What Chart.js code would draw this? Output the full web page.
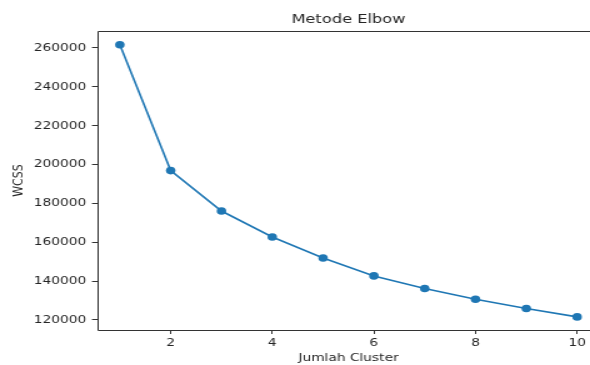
<!DOCTYPE html>
<html>
<head>
<meta charset="utf-8">
<script src="https://cdn.jsdelivr.net/npm/chart.js@4"></script>
<style>
  html, body { margin: 0; padding: 0; background: #fff; overflow: hidden; width: 590px; height: 365px; }
  #clip { width: 590px; height: 365px; overflow: hidden; position: relative; }
  #wrap { transform: scaleX(1.25); transform-origin: 0 0; width: 500px; height: 365px; }
</style>
</head>
<body>
<div id="clip"><div id="wrap"><canvas id="grafico" width="500" height="365"></canvas></div></div>
<script>
const clusters = [1, 2, 3, 4, 5, 6, 7, 8, 9, 10];
const wcss = [261700, 196900, 176100, 162700, 151900, 142700, 136200, 130700, 125900, 121600];
const xTicks = [2, 4, 6, 8, 10];
const yTicks = [120000, 140000, 160000, 180000, 200000, 220000, 240000, 260000];

const corTexto = '#262626';
const corEixo = '#333333';
const fonte = 'DejaVu Sans';

// spines do matplotlib: topo, esquerda e base (a direita fica fora do recorte)
const moldura = {
    id: 'moldura',
    afterDraw(chart) {
        const {ctx, chartArea: a} = chart;
        const l = Math.round(a.left) + 0.5, t = Math.round(a.top) + 0.5;
        const b = Math.round(a.bottom) + 0.5, r = a.right;
        ctx.save();
        ctx.strokeStyle = corEixo;
        ctx.lineWidth = 1;
        ctx.beginPath();
        ctx.moveTo(r, t);
        ctx.lineTo(l, t);
        ctx.lineTo(l, b);
        ctx.lineTo(r, b);
        ctx.stroke();
        ctx.restore();
    }
};

const data = {
    datasets: [{
        data: clusters.map((c, i) => ({x: c, y: wcss[i]})),
        borderColor: '#1f77b4',
        backgroundColor: '#1f77b4',
        borderWidth: 1.6,
        pointRadius: 3.8,
        pointBorderWidth: 0,
        tension: 0
    }]
};

const config = {
    type: 'line',
    data: data,
    plugins: [moldura],
    options: {
        responsive: false,
        animation: false,
        layout: { padding: { left: 0, right: 20, top: 0, bottom: 0 } },
        plugins: {
            legend: { display: false },
            tooltip: { enabled: false },
            title: {
                display: true,
                text: 'Metode Elbow',
                fullSize: false,
                color: corTexto,
                font: { family: fonte, size: 13, weight: 'normal' },
                padding: { top: 11.5, bottom: 3.9 }
            }
        },
        scales: {
            x: {
                type: 'linear',
                min: 0.55,
                max: 10.45,
                afterBuildTicks: s => { s.ticks = xTicks.map(v => ({value: v})); },
                afterFit: s => { s.height = 35; },
                border: { display: false },
                grid: { drawOnChartArea: false, tickLength: 4, tickColor: corEixo },
                ticks: {
                    color: corTexto,
                    padding: 3,
                    maxRotation: 0,
                    font: { family: fonte, size: 11 },
                    callback: v => String(v)
                },
                title: {
                    display: true,
                    text: 'Jumlah Cluster',
                    color: corTexto,
                    font: { family: fonte, size: 11 },
                    padding: { top: 0, bottom: 0 }
                }
            },
            y: {
                min: 114850,
                max: 268750,
                afterBuildTicks: s => { s.ticks = yTicks.map(v => ({value: v})); },
                afterFit: s => { s.width = 77.6; },
                border: { display: false },
                grid: { drawOnChartArea: false, tickLength: 4, tickColor: corEixo },
                ticks: {
                    color: corTexto,
                    padding: 4.5,
                    font: { family: fonte, size: 11 },
                    callback: v => String(v)
                },
                title: {
                    display: true,
                    text: 'WCSS',
                    color: corTexto,
                    font: { family: fonte, size: 11 },
                    padding: { top: 8.6, bottom: 0 }
                }
            }
        }
    }
};

const grafico = new Chart(document.getElementById('grafico'), config);
</script>
</body>
</html>
